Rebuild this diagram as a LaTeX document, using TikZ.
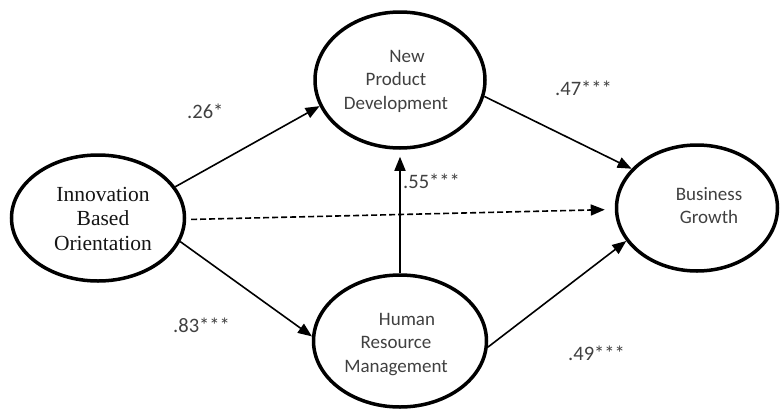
\documentclass[tikz,border=0pt]{standalone}
\usepackage{fontspec}
\setmainfont{Liberation Serif}
\setsansfont{Carlito}
\usetikzlibrary{shapes.geometric,arrows.meta}
\definecolor{txtgray}{HTML}{404040}
\definecolor{ink}{HTML}{151515}
\begin{document}
\begin{tikzpicture}[x=1pt,y=-1pt,
  latent/.style={ellipse, draw=black, line width=3.5pt, inner sep=0pt},
  lbl/.style={font=\sffamily\fontsize{20.5}{24}\selectfont, text=txtgray, anchor=base west, inner sep=0pt},
  sanstxt/.style={font=\sffamily\fontsize{19}{23.5}\selectfont, text=txtgray, align=center, anchor=base, inner sep=0pt},
  seriftxt/.style={font=\fontsize{21.5}{24.5}\selectfont, text=ink, align=center, anchor=base, inner sep=0pt},
  conn/.style={line width=1.6pt, -{Triangle[length=14pt,width=11pt]}},
  dashconn/.style={conn, dash pattern=on 6pt off 3pt}]
\useasboundingbox (0,0) rectangle (780,413);
% latent variables
\node[latent, minimum width=173pt, minimum height=126pt] (ibo) at (98,218) {};
\node[latent, minimum width=170pt, minimum height=136pt] (npd) at (400,80) {};
\node[latent, minimum width=173pt, minimum height=132pt] (hrm) at (400,341) {};
\node[latent, minimum width=161pt, minimum height=126pt] (bg) at (697,208) {};
% texts (anchor = baseline of last line)
\node[seriftxt] (ibot) at (103,250) {Innovation\\Based\\Orientation};
\node[sanstxt] (npdt) at (396,109) {\hspace*{22pt}New\\Product\\Development};
\node[sanstxt] (hrmt) at (396,372) {\hspace*{22pt}Human\\Resource\\Management};
\node[sanstxt] (bgt) at (709,223.5) {Business\\Growth};
% paths
\draw[conn] (ibo.22) -- (npd.198);
\draw[conn] (ibo.-16) -- (hrm.177);
\draw[conn] (npd.-11) -- (bg.149);
\draw[conn] (hrm.-4) -- (bg.205);
\draw[conn, shorten >=7pt] (hrm.north) -- (npd.south);
\draw[dashconn, shorten <=5pt, shorten >=10pt] (ibo.-1) -- (bg.181);
% coefficients
\node[lbl] (l26) at (187,118) {.26*};
\node[lbl] (l83) at (173,332) {.83***};
\node[lbl] (l55) at (403,188) {.55***};
\node[lbl] (l47) at (555,95) {.47***};
\node[lbl] (l49) at (568,360) {.49***};
\end{tikzpicture}
\end{document}
